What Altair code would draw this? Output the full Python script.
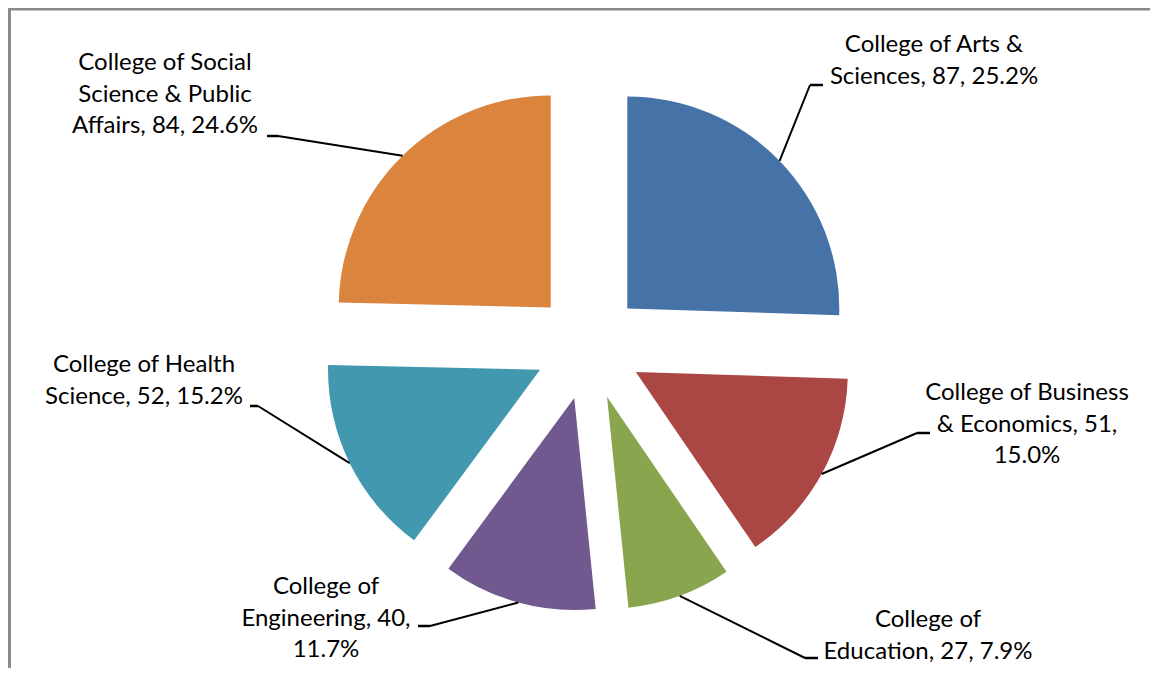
import altair as alt
import pandas as pd

# ---- data ----
colleges = [
    "College of Arts & Sciences",
    "College of Business & Economics",
    "College of Education",
    "College of Engineering",
    "College of Health Science",
    "College of Social Science & Public Affairs",
]
counts = [87, 51, 27, 40, 52, 84]
percents = ["25.2%", "15.0%", "7.9%", "11.7%", "15.2%", "24.6%"]
label_text = [
    "College of Arts &\nSciences, 87, 25.2%",
    "College of Business\n& Economics, 51,\n15.0%",
    "College of\nEducation, 27, 7.9%",
    "College of\nEngineering, 40,\n11.7%",
    "College of Health\nScience, 52, 15.2%",
    "College of Social\nScience & Public\nAffairs, 84, 24.6%",
]
colors = ["#4572A7", "#AA4643", "#89A54E", "#71588F", "#4198AF", "#DB843D"]

# ---- label layout (page pixel coordinates; y = first line centre) ----
label_cx = [934, 1027, 928, 326, 144, 165]
label_cy = [45, 393, 620, 587, 365, 63]
elbow_x = [810, 917, 805, 430, 258, 278]
elbow_y = [85, 433, 658, 626, 406, 136]
end_x = [823, 930, 818, 418, 250, 267]

# ---- geometry ----
W, H = 1142, 660
CX, CY = 588.5, 346
R = 212
EXPLODE = 54

df = pd.DataFrame({
    "college": colleges,
    "count": counts,
    "pct": percents,
    "label": label_text,
    "order": list(range(len(colleges))),
    "lcx": label_cx,
    "lcy": label_cy,
    "ex": elbow_x,
    "ey": elbow_y,
    "endx": end_x,
})

xs = alt.Scale(domain=[8, 8 + W], range=[0, W], nice=False, zero=False)
ys = alt.Scale(domain=[8, 8 + H], range=[0, H], nice=False, zero=False)

base = (
    alt.Chart(df)
    .transform_joinaggregate(total="sum(count)")
    .transform_window(cum="sum(count)", sort=[alt.SortField("order")], frame=[None, 0])
    .transform_calculate(
        th1="2*PI*datum.cum/datum.total",
        th0="2*PI*(datum.cum-datum.count)/datum.total",
    )
    .transform_calculate(mid="(datum.th0+datum.th1)/2")
    .transform_calculate(
        cx=f"{CX}+{EXPLODE}*sin(datum.mid)",
        cy=f"{CY}-{EXPLODE}*cos(datum.mid)",
    )
    .transform_calculate(
        sx=f"datum.cx+{R}*sin(datum.mid)",
        sy=f"datum.cy-{R}*cos(datum.mid)",
    )
)

arcs = base.mark_arc(radius=R, strokeWidth=0).encode(
    x=alt.X("cx:Q", scale=xs, axis=None),
    y=alt.Y("cy:Q", scale=ys, axis=None),
    theta=alt.Theta("th0:Q", scale=None, stack=False),
    theta2="th1:Q",
    color=alt.Color("college:N", scale=alt.Scale(domain=colleges, range=colors), legend=None),
)

leader1 = base.mark_rule(color="#000000", strokeWidth=2).encode(
    x=alt.X("sx:Q", scale=xs, axis=None),
    y=alt.Y("sy:Q", scale=ys, axis=None),
    x2="ex:Q",
    y2="ey:Q",
)

leader2 = base.mark_rule(color="#000000", strokeWidth=2.5).encode(
    x=alt.X("ex:Q", scale=xs, axis=None),
    y=alt.Y("ey:Q", scale=ys, axis=None),
    x2="endx:Q",
)

labels = base.mark_text(
    font="Lato", fontSize=24, lineBreak="\n", lineHeight=31.5,
    align="center", baseline="middle", color="#000000",
).encode(
    x=alt.X("lcx:Q", scale=xs, axis=None),
    y=alt.Y("lcy:Q", scale=ys, axis=None),
    text="label:N",
)

frame_df = pd.DataFrame({"k": [0]})
frame_left = alt.Chart(frame_df).mark_rule(color="#8a8a8a", strokeWidth=3).encode(
    x=alt.value(1.5), y=alt.value(0), y2=alt.value(H)
)
frame_top = alt.Chart(frame_df).mark_rule(color="#8a8a8a", strokeWidth=2.5).encode(
    x=alt.value(0), x2=alt.value(W), y=alt.value(1.25)
)

chart = (
    alt.layer(arcs, leader1, leader2, labels, frame_left, frame_top)
    .properties(width=W, height=H, padding=0, autosize=alt.AutoSizeParams(type="none"))
    .configure_view(stroke=None)
    .configure(background="white")
)

chart.save("out.html", embed_options={"renderer": "svg", "actions": False})
